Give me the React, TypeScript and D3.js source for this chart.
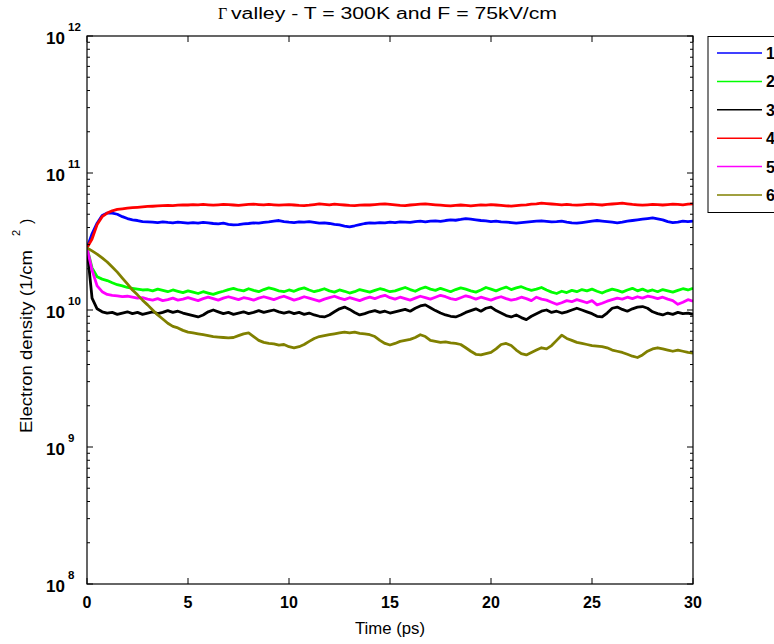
import React from "react";
import * as d3 from "d3";

// time axis (ps): 0 .. 30 step 0.25
const TIME: number[] = d3.range(0, 30.0001, 0.25).map((t) => +t.toFixed(2));

// electron density in units of 1e10 1/cm^2
const S1 = [2.84, 3.6, 4.3, 4.9, 5.1, 5.1, 5.0, 4.8, 4.65, 4.55, 4.5, 4.42, 4.4,
  4.38, 4.35, 4.40, 4.36, 4.33, 4.38, 4.35, 4.30, 4.34, 4.31, 4.36, 4.33,
  4.28, 4.25, 4.30, 4.22, 4.18, 4.20, 4.25, 4.28, 4.32, 4.30, 4.36, 4.40,
  4.45, 4.50, 4.42, 4.38, 4.35, 4.40, 4.38, 4.42, 4.36, 4.30, 4.33, 4.28,
  4.22, 4.18, 4.10, 4.05, 4.12, 4.20, 4.28, 4.32, 4.30, 4.35, 4.33, 4.38,
  4.35, 4.40, 4.38, 4.36, 4.42, 4.45, 4.40, 4.46, 4.48, 4.44, 4.50, 4.55,
  4.52, 4.58, 4.65, 4.60, 4.55, 4.50, 4.48, 4.42, 4.45, 4.40, 4.38, 4.35,
  4.30, 4.34, 4.38, 4.42, 4.45, 4.48, 4.44, 4.40, 4.42, 4.45, 4.38, 4.32,
  4.30, 4.35, 4.40, 4.45, 4.50, 4.46, 4.42, 4.38, 4.33, 4.38, 4.45, 4.50,
  4.55, 4.60, 4.65, 4.70, 4.62, 4.55, 4.42, 4.35, 4.38, 4.45, 4.42, 4.46];

const S2 = [2.84, 2.03, 1.75, 1.68, 1.64, 1.58, 1.53, 1.50, 1.46, 1.44, 1.42, 1.40, 1.41,
  1.38, 1.42, 1.39, 1.36, 1.40, 1.37, 1.34, 1.38, 1.35, 1.32, 1.36, 1.33,
  1.30, 1.34, 1.37, 1.41, 1.44, 1.40, 1.38, 1.43, 1.39, 1.36, 1.41, 1.45,
  1.42, 1.38, 1.36, 1.40, 1.37, 1.42, 1.45, 1.40, 1.36, 1.39, 1.43, 1.38,
  1.35, 1.40, 1.37, 1.33, 1.36, 1.41, 1.38, 1.35, 1.39, 1.43, 1.40, 1.36,
  1.38, 1.42, 1.46, 1.41, 1.37, 1.43, 1.47, 1.42, 1.39, 1.44, 1.40, 1.36,
  1.41, 1.45, 1.42, 1.38, 1.35, 1.40, 1.46, 1.42, 1.38, 1.43, 1.47, 1.41,
  1.45, 1.48, 1.43, 1.39, 1.42, 1.46, 1.40, 1.35, 1.32, 1.37, 1.34, 1.39,
  1.36, 1.41, 1.38, 1.42, 1.37, 1.33, 1.38, 1.42, 1.39, 1.35, 1.40, 1.44,
  1.38, 1.42, 1.37, 1.40, 1.36, 1.41, 1.38, 1.35, 1.39, 1.43, 1.40, 1.44];

const S3 = [2.84, 1.22, 1.02, 0.97, 0.95, 0.96, 0.93, 0.95, 0.97, 0.94, 0.96, 0.93, 0.95,
  0.97, 0.94, 0.96, 0.99, 0.96, 0.98, 0.95, 0.93, 0.91, 0.89, 0.92, 0.97,
  1.00, 0.97, 0.94, 0.96, 0.93, 0.95, 0.97, 0.94, 0.96, 0.99, 0.96, 0.98,
  1.00, 0.97, 0.95, 0.97, 0.94, 0.96, 0.93, 0.95, 0.92, 0.90, 0.89, 0.92,
  0.97, 1.02, 1.05, 1.01, 0.96, 0.92, 0.94, 0.97, 0.99, 0.96, 0.98, 0.95,
  0.97, 0.99, 1.01, 0.98, 1.03, 1.07, 1.09, 1.04, 0.99, 0.95, 0.92, 0.90,
  0.89, 0.92, 0.96, 0.99, 1.02, 0.98, 1.03, 1.05, 0.99, 0.95, 0.91, 0.89,
  0.92, 0.88, 0.85, 0.90, 0.94, 0.98, 1.00, 0.96, 0.98, 0.95, 0.97, 1.00,
  1.03, 1.00, 0.97, 0.94, 0.90, 0.89, 0.95, 1.03, 1.05, 1.01, 0.98, 1.02,
  1.05, 1.06, 1.03, 0.97, 0.94, 0.92, 0.95, 0.93, 0.96, 0.94, 0.95, 0.93];

const S4 = [2.84, 3.30, 4.2, 4.8, 5.1, 5.3, 5.42, 5.48, 5.55, 5.58, 5.62, 5.66, 5.70,
  5.72, 5.75, 5.78, 5.80, 5.78, 5.82, 5.85, 5.84, 5.88, 5.85, 5.90, 5.86,
  5.82, 5.86, 5.90, 5.88, 5.84, 5.80, 5.85, 5.90, 5.92, 5.88, 5.85, 5.90,
  5.86, 5.82, 5.85, 5.88, 5.84, 5.80, 5.78, 5.82, 5.88, 5.95, 5.90, 5.85,
  5.92, 5.88, 5.84, 5.80, 5.78, 5.82, 5.86, 5.84, 5.88, 5.92, 5.96, 5.90,
  5.85, 5.80, 5.78, 5.84, 5.88, 5.92, 5.95, 5.90, 5.86, 5.82, 5.78, 5.75,
  5.80, 5.84, 5.80, 5.76, 5.80, 5.85, 5.82, 5.88, 5.84, 5.80, 5.76, 5.74,
  5.78, 5.82, 5.86, 5.92, 5.96, 6.02, 5.98, 5.94, 5.90, 5.86, 5.90, 5.85,
  5.82, 5.86, 5.90, 5.92, 5.88, 5.84, 5.90, 5.94, 5.98, 6.02, 5.96, 5.90,
  5.86, 5.82, 5.86, 5.90, 5.88, 5.84, 5.88, 5.92, 5.90, 5.86, 5.92, 5.95];

const S5 = [2.84, 1.95, 1.50, 1.36, 1.30, 1.28, 1.27, 1.25, 1.26, 1.24, 1.22, 1.23, 1.20,
  1.18, 1.21, 1.17, 1.19, 1.22, 1.18, 1.20, 1.23, 1.20, 1.17, 1.21, 1.24,
  1.21, 1.18, 1.22, 1.25, 1.22, 1.19, 1.23, 1.21, 1.18, 1.22, 1.25, 1.22,
  1.19, 1.23, 1.26, 1.22, 1.18, 1.21, 1.25, 1.22, 1.19, 1.16, 1.20, 1.23,
  1.26, 1.22, 1.19, 1.23, 1.20, 1.17, 1.21, 1.24, 1.21, 1.25, 1.28, 1.23,
  1.20, 1.24, 1.21, 1.18, 1.22, 1.26, 1.23, 1.20, 1.24, 1.28, 1.25, 1.21,
  1.19, 1.23, 1.27, 1.24, 1.20, 1.24, 1.21, 1.18, 1.22, 1.25, 1.21, 1.18,
  1.20, 1.24, 1.21, 1.17, 1.24, 1.20, 1.18, 1.14, 1.10, 1.13, 1.17, 1.15,
  1.19, 1.16, 1.13, 1.17, 1.09, 1.12, 1.16, 1.19, 1.22, 1.20, 1.24, 1.21,
  1.25, 1.22, 1.26, 1.24, 1.21, 1.24, 1.20, 1.17, 1.10, 1.14, 1.19, 1.16];

const S6 = [2.84, 2.70, 2.56, 2.40, 2.24, 2.06, 1.89, 1.71, 1.55, 1.40, 1.29, 1.18, 1.09,
  1.00, 0.92, 0.86, 0.80, 0.76, 0.74, 0.71, 0.69, 0.68, 0.67, 0.66, 0.65,
  0.64, 0.635, 0.63, 0.625, 0.63, 0.65, 0.67, 0.68, 0.64, 0.60, 0.58, 0.57,
  0.565, 0.555, 0.56, 0.54, 0.53, 0.54, 0.56, 0.59, 0.62, 0.64, 0.65, 0.66,
  0.67, 0.68, 0.69, 0.68, 0.69, 0.675, 0.67, 0.66, 0.64, 0.60, 0.57, 0.555,
  0.57, 0.59, 0.60, 0.61, 0.63, 0.66, 0.64, 0.60, 0.59, 0.58, 0.585, 0.575,
  0.57, 0.56, 0.53, 0.50, 0.475, 0.47, 0.48, 0.49, 0.52, 0.56, 0.57, 0.55,
  0.51, 0.48, 0.47, 0.49, 0.51, 0.53, 0.52, 0.55, 0.60, 0.655, 0.62, 0.60,
  0.58, 0.57, 0.56, 0.55, 0.545, 0.54, 0.53, 0.51, 0.50, 0.49, 0.475, 0.46,
  0.45, 0.47, 0.50, 0.52, 0.53, 0.52, 0.51, 0.50, 0.51, 0.50, 0.49, 0.485];

const SERIES_NAMES = ["1", "2", "3", "4", "5", "6"];
const SERIES_VALUES = [S1, S2, S3, S4, S5, S6];
const SERIES_COLORS = ["#0000ff", "#00ff00", "#000000", "#ff0000", "#ff00ff", "#808000"];
const UNIT = 1e10;

const X_TICKS = [0, 5, 10, 15, 20, 25, 30];
const Y_EXPONENTS = [8, 9, 10, 11, 12];

const W = 774;
const H = 644;
const L = 87, R = 693, T = 36, B = 584;

export default function App() {
  const x = d3.scaleLinear().domain([0, 30]).range([L, R]);
  const y = d3.scaleLog().domain([1e8, 1e12]).range([B, T]);
  const line = d3
    .line<number>()
    .x((_, i) => x(TIME[i]))
    .y((v) => y(v * UNIT));

  const minor: number[] = [];
  for (let k = 8; k < 12; k++) for (let m = 2; m <= 9; m++) minor.push(m * Math.pow(10, k));

  const font = "Arial, 'Liberation Sans', Helvetica, sans-serif";
  const legTop = 53, legStep = 28.4;

  return (
    <svg width={W} height={H} style={{ position: "absolute", left: 0, top: 0, background: "#fff" }}
      fontFamily={font}>
      <rect x={0} y={0} width={W} height={H} fill="#fff" />
      {/* title */}
      <text x={218} y={19} fontSize={16} fontFamily="'Liberation Serif', 'Times New Roman', serif">Γ</text>
      <text x={231} y={19} fontSize={16} textLength={326} lengthAdjust="spacingAndGlyphs">valley - T = 300K and F = 75kV/cm</text>

      {/* series */}
      <defs>
        <clipPath id="clip">
          <rect x={L} y={T} width={R - L} height={B - T} />
        </clipPath>
      </defs>
      <g clipPath="url(#clip)">
        {SERIES_VALUES.map((vals, i) => (
          <path key={i} d={line(vals) || ""} fill="none" stroke={SERIES_COLORS[i]}
            strokeWidth={2.8} strokeLinejoin="round" />
        ))}
      </g>

      {/* axes box */}
      <rect x={L} y={T} width={R - L} height={B - T} fill="none" stroke="#000" strokeWidth={1.2} />

      {/* x ticks */}
      {X_TICKS.map((t) => (
        <g key={t}>
          <line x1={x(t)} x2={x(t)} y1={B} y2={B - 6} stroke="#000" />
          <line x1={x(t)} x2={x(t)} y1={T} y2={T + 6} stroke="#000" />
          <text x={x(t)} y={608} textAnchor="middle" fontSize={16} fontWeight="bold">{t}</text>
        </g>
      ))}

      {/* y ticks */}
      {Y_EXPONENTS.map((e) => {
        const yy = y(Math.pow(10, e));
        return (
          <g key={e}>
            <line x1={L} x2={L + 6} y1={yy} y2={yy} stroke="#000" />
            <line x1={R} x2={R - 6} y1={yy} y2={yy} stroke="#000" />
            <text x={65} y={yy + 8} textAnchor="end" fontSize={17} fontWeight="bold">10</text>
            <text x={68} y={yy - 5} textAnchor="start" fontSize={11.5} fontWeight="bold">{e}</text>
          </g>
        );
      })}
      {minor.map((v, i) => (
        <g key={i}>
          <line x1={L} x2={L + 3} y1={y(v)} y2={y(v)} stroke="#000" />
          <line x1={R} x2={R - 3} y1={y(v)} y2={y(v)} stroke="#000" />
        </g>
      ))}

      {/* axis labels */}
      <text x={355} y={634} fontSize={16} textLength={70} lengthAdjust="spacingAndGlyphs">Time (ps)</text>
      <g transform="translate(32,433) rotate(-90)">
        <text x={0} y={0} fontSize={16} textLength={183} lengthAdjust="spacingAndGlyphs">Electron density (1/cm</text>
      </g>
      <g transform="translate(20,236) rotate(-90)">
        <text x={0} y={0} fontSize={11}>2</text>
      </g>
      <g transform="translate(32,224) rotate(-90)">
        <text x={0} y={0} fontSize={16}>)</text>
      </g>

      {/* legend */}
      <rect x={708} y={36.5} width={120} height={176} fill="#fff" stroke="#000" strokeWidth={1} />
      {SERIES_NAMES.map((n, i) => (
        <g key={n}>
          <line x1={717} x2={762} y1={legTop + i * legStep} y2={legTop + i * legStep}
            stroke={SERIES_COLORS[i]} strokeWidth={1.5} />
          <text x={766} y={legTop + i * legStep + 6} fontSize={16} fontWeight="bold">{n}</text>
        </g>
      ))}
    </svg>
  );
}
